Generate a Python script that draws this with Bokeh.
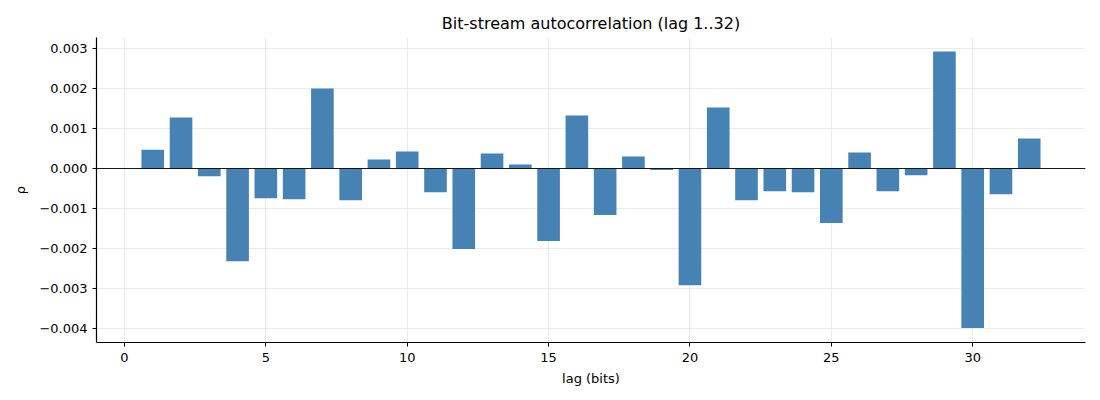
from bokeh.plotting import figure
from bokeh.models import ColumnDataSource, Span, FixedTicker, CustomJSTickFormatter, Range1d
from bokeh.embed import file_html
from bokeh.resources import INLINE

lags = list(range(1, 33))
rho = [0.00047, 0.00127, -0.00019, -0.00231, -0.00074, -0.000765, 0.001995, -0.00079,
       0.000224, 0.000424, -0.00059, -0.00201, 0.000374, 0.00010, -0.00181, 0.00132,
       -0.00116, 0.00030, -0.00004, -0.00291, 0.00152, -0.00079, -0.000565, -0.00059,
       -0.00136, 0.00040, -0.000565, -0.000166, 0.00292, -0.00398, -0.00064, 0.00075]
x_ticks = [0, 5, 10, 15, 20, 25, 30]
y_ticks = [-0.004, -0.003, -0.002, -0.001, 0.0, 0.001, 0.002, 0.003]

title_text = "Bit-stream autocorrelation (lag 1..32)"
x_label = "lag (bits)"
y_label = "ρ"

FONT = "DejaVu Sans"

src = ColumnDataSource(dict(x=lags, top=rho))

p = figure(width=1092, height=392, output_backend="svg", toolbar_location=None,
           title=title_text,
           x_range=Range1d(-0.99, 33.99), y_range=Range1d(-0.004339, 0.003267),
           min_border_left=96, min_border_right=7, min_border_top=37, min_border_bottom=50)

p.vbar(x="x", top="top", bottom=0, width=0.8, source=src,
       fill_color="#4682b4", line_color=None)

p.add_layout(Span(location=0, dimension="width", line_color="black", line_width=0.9))

p.title.align = "center"
p.title.text_font = FONT
p.title.text_font_size = "16px"
p.title.text_font_style = "normal"
p.title.text_color = "black"
p.title.offset = 0

p.outline_line_color = None
p.background_fill_color = "white"
p.border_fill_color = "white"

p.xaxis.ticker = FixedTicker(ticks=x_ticks)
p.yaxis.ticker = FixedTicker(ticks=y_ticks)
p.yaxis.formatter = CustomJSTickFormatter(code="return tick.toFixed(3).replace('-', '\u2212');")

for ax in (p.xaxis[0], p.yaxis[0]):
    ax.axis_line_color = "black"
    ax.axis_line_width = 1.2
    ax.major_tick_line_color = "black"
    ax.major_tick_in = 0
    ax.major_tick_out = 4
    ax.minor_tick_line_color = None
    ax.major_label_text_font = FONT
    ax.major_label_text_font_size = "13px"
    ax.major_label_text_color = "black"
    ax.axis_label_text_font = FONT
    ax.axis_label_text_font_size = "13px"
    ax.axis_label_text_font_style = "normal"
    ax.axis_label_text_color = "black"

p.xaxis.axis_label = x_label
p.yaxis.axis_label = y_label
p.xaxis.major_label_standoff = 6
p.yaxis.major_label_standoff = 5
p.xaxis.axis_label_standoff = 6
p.yaxis.axis_label_standoff = 8

p.xgrid.grid_line_color = "#e6e6e6"
p.ygrid.grid_line_color = "#e6e6e6"
p.xgrid.grid_line_width = 0.8
p.ygrid.grid_line_width = 0.8

open("out.html", "w").write(file_html(p, INLINE))
